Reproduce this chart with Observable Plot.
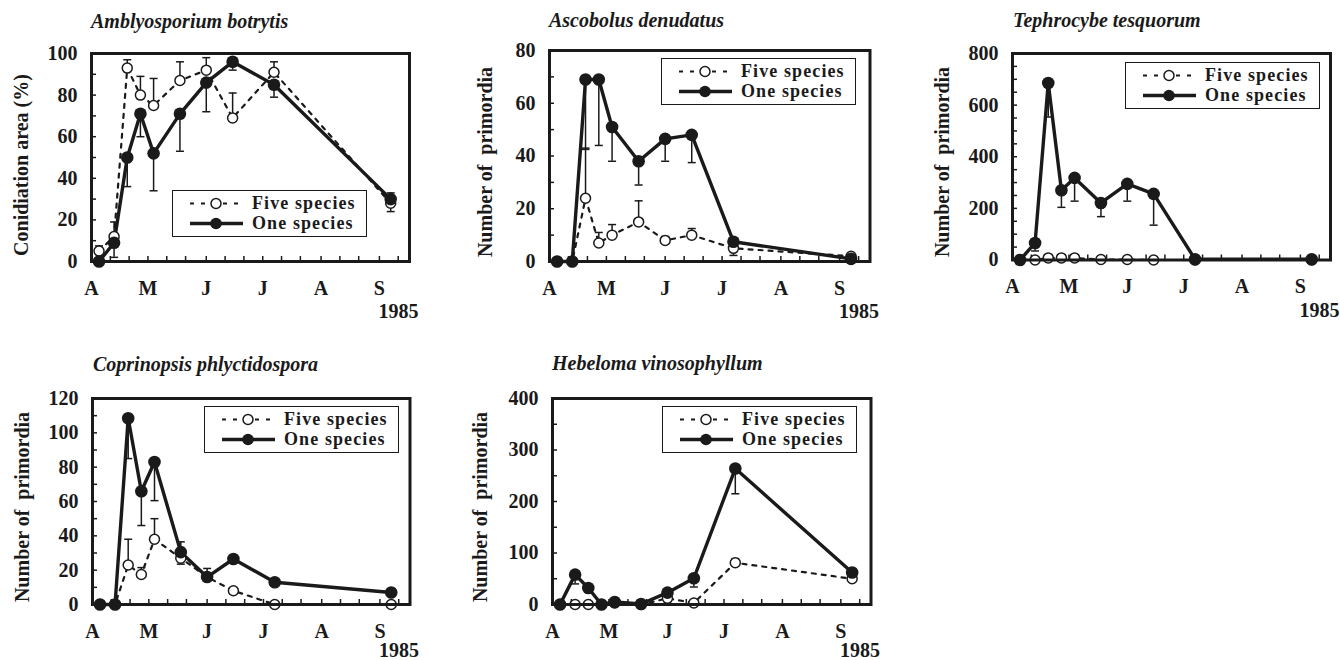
<!DOCTYPE html>
<html><head><meta charset="utf-8">
<script src="https://cdn.jsdelivr.net/npm/d3@7"></script>
<script src="https://cdn.jsdelivr.net/npm/@observablehq/plot@0.6"></script>
<style>
body{margin:0;background:#fff;}
#root{position:relative;width:1340px;height:660px;overflow:hidden;font-family:"Liberation Serif","Times New Roman",serif;color:#1a1a1a;}
.title{position:absolute;font-style:italic;font-weight:bold;font-size:20px;line-height:20px;white-space:nowrap;}
.ylab{position:absolute;font-weight:bold;font-size:20px;line-height:20px;white-space:pre;transform:translate(-50%,-50%) rotate(-90deg);}
.legend{position:absolute;border:1.5px solid #1a1a1a;background:#fff;box-sizing:border-box;}
.panel{position:absolute;}
.panel svg{max-width:none !important;}
</style></head><body><div id="root"></div>
<script>
// ---------- data ----------
const sampleDates = ["1985-04-05","1985-04-13","1985-04-20","1985-04-27","1985-05-04","1985-05-18","1985-06-01","1985-06-15","1985-07-07","1985-09-07"];
const monthStarts = ["1985-04-01","1985-05-01","1985-06-01","1985-07-01","1985-08-01","1985-09-01"];
const monthLabels = ["A","M","J","J","A","S"];
const yearLabel = "1985";
const seriesNames = ["Five species","One species"];
const titles = ["Amblyosporium botrytis","Ascobolus denudatus","Tephrocybe tesquorum","Coprinopsis phlyctidospora","Hebeloma vinosophyllum"];
const yLabels = ["Conidiation area (%)","Number of  primordia","Number of  primordia","Number of  primordia","Number of  primordia"];

const fiveAmbly    = [5, 12, 93, 80, 75, 87, 92, 69, 91, 28];
const fiveAmblyErr = [7.5, 19, 97, 89, 88, 96, 98, 81, 96, 33];
const oneAmbly     = [0, 9, 50, 71, 52, 71, 86, 96, 85, 30];
const oneAmblyErr  = [null, 2, 36, 60, 34, 53, 72, 92, 79, 24];

const fiveAsco    = [0, 0, 24, 7, 10, 15, 8, 10, 5, 2];
const fiveAscoErr = [null, null, 43, 11, 14, 23, 9.5, 12.5, null, null];
const oneAsco     = [0, 0, 69, 69, 51, 38, 46.5, 48, 7.5, 1];
const oneAscoErr  = [null, null, 42.5, 44, 38, 29, 38, 37.5, 2.3, null];

const fiveTeph    = [0, 0, 8, 8, 8, 2, 2, 0, 0, 0];
const fiveTephErr = [null, null, 18, 18, 18, 8, 12, null, null, null];
const oneTeph     = [0, 66, 686, 270, 318, 221, 295, 256, 3, 3];
const oneTephErr  = [null, 35, 554, 204, 228, 168, 228, 135, null, null];

const fiveCopr    = [0, 0, 23, 17.5, 38, 27, 16, 8, 0, 0];
const fiveCoprErr = [null, null, 38, 21.5, 50, 36.5, 21, null, null, null];
const oneCopr     = [0, 0, 108.5, 66, 83, 30.5, 16, 26.5, 13, 7];
const oneCoprErr  = [null, null, 85, 46, 60.5, 23.5, null, null, null, null];

const fiveHebe    = [0, 0, 0, 0, 3, 0, 12, 3, 81, 50];
const fiveHebeErr = [null, null, null, null, null, null, null, null, 89, null];
const oneHebe     = [0, 58, 32, 0, 5, 1, 23, 51, 264, 62];
const oneHebeErr  = [null, 40, null, null, null, null, null, 34, 215, null];

// ---------- layout ----------
const INK = "#1a1a1a";
const FONT = "'Liberation Serif', 'Times New Roman', serif";
const parse = s => new Date(s + "T00:00:00Z");
const xDomain = [parse("1985-04-01"), parse("1985-09-17")];
const monthDates = monthStarts.map(parse);
const xMinor = [];
monthDates.forEach(m => [0, 10, 20].forEach(k => { const d = d3.utcDay.offset(m, k); if (d < xDomain[1]) xMinor.push(d); }));

const panels = [
  {five: fiveAmbly, fiveErr: fiveAmblyErr, one: oneAmbly, oneErr: oneAmblyErr, yMax: 100, yStep: 20, yMinor: 10,
   frame: [91, 409, 53, 261], legend: [172, 190], ylab: [21, 165], title: [91, 28], yearDy: 50},
  {five: fiveAsco, fiveErr: fiveAscoErr, one: oneAsco, oneErr: oneAscoErr, yMax: 80, yStep: 20, yMinor: 10,
   frame: [548.5, 869, 50, 261], legend: [661, 58], ylab: [485, 162], title: [549, 27], yearDy: 50},
  {five: fiveTeph, fiveErr: fiveTephErr, one: oneTeph, oneErr: oneTephErr, yMax: 800, yStep: 200, yMinor: 50,
   frame: [1012, 1330, 53, 259.5], legend: [1125, 62], ylab: [942, 162], title: [1013, 27], yearDy: 51},
  {five: fiveCopr, fiveErr: fiveCoprErr, one: oneCopr, oneErr: oneCoprErr, yMax: 120, yStep: 20, yMinor: 10,
   frame: [91.5, 409, 398, 604], legend: [204, 406], ylab: [22, 507], title: [93, 371], yearDy: 46},
  {five: fiveHebe, fiveErr: fiveHebeErr, one: oneHebe, oneErr: oneHebeErr, yMax: 400, yStep: 100, yMinor: 50,
   frame: [551.5, 870, 398, 604], legend: [662, 406], ylab: [480, 507], title: [552, 370], yearDy: 46}
];

const capSymbol = {draw(ctx, size) { const w = Math.sqrt(size / Math.PI); ctx.moveTo(-w, 0); ctx.lineTo(w, 0); }};
const root = document.getElementById("root");

function rows(vals, errs) {
  return sampleDates.map((d, i) => ({date: parse(d), v: vals[i], e: errs[i]})).filter(r => r.v != null);
}

panels.forEach((p, idx) => {
  const [fx0, fx1, fy0, fy1] = p.frame;
  const mL = 70, mR = 30, mT = 12, mB = 62;
  const iw = fx1 - fx0, ih = fy1 - fy0;
  const W = iw + mL + mR, H = ih + mT + mB;
  const fiveRows = rows(p.five, p.fiveErr);
  const oneRows = rows(p.one, p.oneErr);
  const fiveE = fiveRows.filter(r => r.e != null);
  const oneE = oneRows.filter(r => r.e != null);
  const yMajor = d3.range(0, p.yMax + 1e-9, p.yStep);
  const yMinor = d3.range(0, p.yMax + 1e-9, p.yMinor);
  const chart = Plot.plot({
    width: W, height: H, marginLeft: mL, marginRight: mR, marginTop: mT, marginBottom: mB,
    style: {fontFamily: FONT, fontSize: "20px", fontWeight: "bold", color: INK, background: "transparent", overflow: "visible", maxWidth: "none"},
    x: {type: "utc", domain: xDomain},
    y: {domain: [0, p.yMax]},
    marks: [
      Plot.tickY(yMinor, {y: d => d, stroke: INK, strokeWidth: 1.5, insetRight: iw - 5}),
      Plot.tickX(xMinor, {x: d => d, stroke: INK, strokeWidth: 1.5, insetTop: ih - 5}),
      Plot.axisY({ticks: yMajor, tickSize: 0, tickPadding: 14, label: null, tickFormat: d => String(d)}),
      Plot.axisX({ticks: monthDates, tickSize: 0, tickPadding: 19, label: null, tickFormat: d => monthLabels[d.getUTCMonth() - 3]}),
      Plot.line(fiveRows, {x: "date", y: "v", stroke: INK, strokeWidth: 2.2, strokeDasharray: "4,6"}),
      Plot.ruleX(fiveE, {x: "date", y1: "v", y2: "e", stroke: INK, strokeWidth: 1.5}),
      Plot.dot(fiveE, {x: "date", y: "e", symbol: capSymbol, r: 4, stroke: INK, strokeWidth: 1.5, fill: "none"}),
      Plot.line(oneRows, {x: "date", y: "v", stroke: INK, strokeWidth: 3.4}),
      Plot.ruleX(oneE, {x: "date", y1: "v", y2: "e", stroke: INK, strokeWidth: 1.5}),
      Plot.dot(oneE, {x: "date", y: "e", symbol: capSymbol, r: 4, stroke: INK, strokeWidth: 1.5, fill: "none"}),
      Plot.dot(fiveRows, {x: "date", y: "v", r: 5, fill: "white", stroke: INK, strokeWidth: 1.5}),
      Plot.dot(oneRows, {x: "date", y: "v", r: 6.3, fill: INK}),
      Plot.frame({stroke: INK, strokeWidth: 3}),
      Plot.text([yearLabel], {text: d => d, frameAnchor: "bottom-right", dx: 9, dy: p.yearDy, textAnchor: "end", lineAnchor: "middle", fill: INK})
    ]
  });
  chart.style.maxWidth = "none";
  const wrap = document.createElement("div");
  wrap.className = "panel";
  wrap.style.left = (fx0 - mL) + "px";
  wrap.style.top = (fy0 - mT) + "px";
  wrap.style.width = W + "px";
  wrap.style.height = H + "px";
  wrap.appendChild(chart);
  root.appendChild(wrap);

  const t = document.createElement("div");
  t.className = "title";
  t.textContent = titles[idx];
  t.style.left = p.title[0] + "px";
  t.style.top = (p.title[1] - 17) + "px";
  root.appendChild(t);

  const yl = document.createElement("div");
  yl.className = "ylab";
  yl.textContent = yLabels[idx];
  yl.style.left = p.ylab[0] + "px";
  yl.style.top = p.ylab[1] + "px";
  root.appendChild(yl);

  const lg = document.createElement("div");
  lg.className = "legend";
  lg.style.left = p.legend[0] + "px";
  lg.style.top = p.legend[1] + "px";
  lg.style.width = "195px";
  lg.style.height = "47px";
  lg.innerHTML = `<svg width="192" height="44" style="position:absolute;left:0;top:0;font-family:${FONT.replace(/'/g, '&quot;')};font-weight:bold;font-size:18px;letter-spacing:1.1px">
    <line x1="17" x2="70" y1="12.5" y2="12.5" stroke="${INK}" stroke-width="2.2" stroke-dasharray="4,7"/>
    <circle cx="43" cy="12.5" r="5" fill="white" stroke="${INK}" stroke-width="1.5"/>
    <text x="79" y="12.5" dy="0.33em" fill="${INK}">${seriesNames[0]}</text>
    <line x1="17" x2="70" y1="32.5" y2="32.5" stroke="${INK}" stroke-width="3.4"/>
    <circle cx="43" cy="32.5" r="5.8" fill="${INK}"/>
    <text x="79" y="32.5" dy="0.33em" fill="${INK}">${seriesNames[1]}</text>
  </svg>`;
  root.appendChild(lg);
});
</script></body></html>
